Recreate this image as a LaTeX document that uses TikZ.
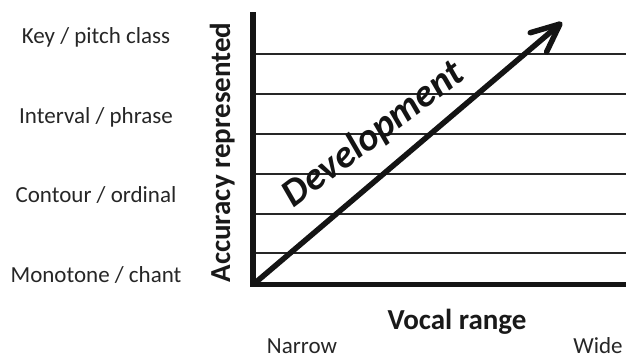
\documentclass[tikz,border=0pt]{standalone}
\usepackage{fontspec}
\setmainfont{Carlito}
\begin{document}
\begin{tikzpicture}[x=1pt,y=1pt,
  level/.style={font=\fontsize{23}{27}\selectfont, text=black!85, anchor=base, inner sep=0pt},
  axislabel/.style={font=\fontsize{29}{34}\selectfont\bfseries, text=black!90, anchor=base, inner sep=0pt},
  endlabel/.style={font=\fontsize{23}{27}\selectfont, text=black!85, anchor=base, inner sep=0pt},
  devlabel/.style={font=\fontsize{39}{44}\selectfont\bfseries\itshape, anchor=base, rotate=37, inner sep=0pt},
  gridline/.style={line width=1.5pt, draw=black!85},
  axisline/.style={line width=5.5pt, draw=black!92},
  devarrow/.style={line width=5.5pt, draw=black!92}]
\useasboundingbox (0,0) rectangle (626,358);
% grid lines
\foreach \y in {304,264,224,184,144,105}
  \draw[gridline] (255,\y) -- (626,\y);
% development label
\node[devlabel, text=black!92] (dev) at (380,214.5) {Development};
% axes
\coordinate (ytop) at (253,346);
\coordinate (ybot) at (253,71);
\coordinate (xleft) at (250.5,73.5);
\coordinate (xright) at (626,73.5);
\draw[axisline] (ybot) -- (ytop);
\draw[axisline, line width=5pt] (xleft) -- (xright);
% development arrow
\coordinate (origin) at (255,75);
\coordinate (tip) at (560,334);
\coordinate (armA) at ([shift={(196.35:31)}]tip);
\coordinate (armB) at ([shift={(244.35:31)}]tip);
\draw[devarrow] (origin) -- (tip);
\draw[devarrow, line cap=round, line join=round] (armA) -- (tip) -- (armB);
% level labels
\node[level] (key) at (96,314) {Key / pitch class};
\node[level] (interval) at (96,234) {Interval / phrase};
\node[level] (contour) at (96,155) {Contour / ordinal};
\node[level] (mono) at (96,75) {Monotone / chant};
% axis labels
\node[axislabel, rotate=90] (acc) at (230,205.5) {Accuracy represented};
\node[axislabel] (vocal) at (457,28) {Vocal range};
\node[endlabel] (narrow) at (302,4) {Narrow};
\node[endlabel] (wide) at (598,4) {Wide};
\end{tikzpicture}
\end{document}
